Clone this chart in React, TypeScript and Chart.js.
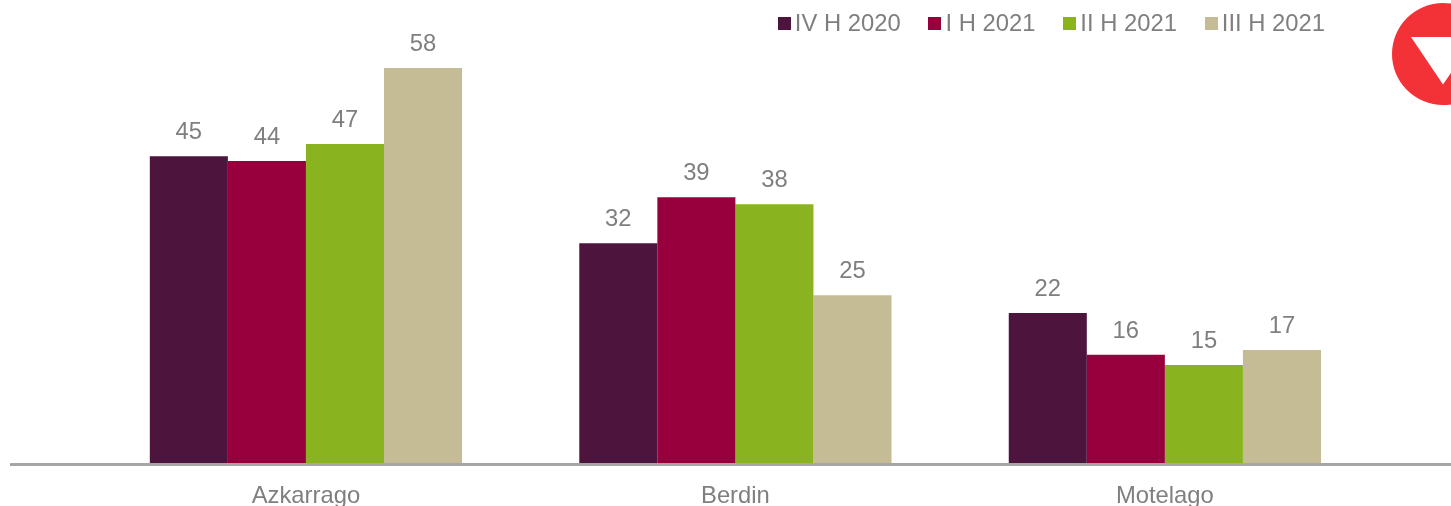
import React, { useEffect, useRef } from "react";
import { Chart, registerables } from "chart.js";

Chart.register(...registerables);

const categories = ["Azkarrago", "Berdin", "Motelago"];
const seriesNames = ["IV H 2020", "I H 2021", "II H 2021", "III H 2021"];
const seriesColors = ["#4d143d", "#97003c", "#8ab41f", "#c5bc95"];
const iv2020 = [45.1, 32.4, 22.2];
const i2021 = [44.4, 39.1, 16.1];
const ii2021 = [46.9, 38.1, 14.6];
const iii2021 = [58, 24.8, 16.8];
const seriesValues = [iv2020, i2021, ii2021, iii2021];

const FONT = "'Liberation Sans', Arial, sans-serif";
const FONT_SIZE = 23.8;
const GRAY = "#7f7f7f";

const decorations = {
  id: "decorations",
  afterLayout(chart: any) {
    const legend = chart.legend;
    const dx = 1354.2 - legend.right;
    const dy = -16.4 - legend.top;
    legend.left += dx;
    legend.right += dx;
    legend.top += dy;
    legend.bottom += dy;
    // small tolerance so the last item stays on the first row
    legend.lineWidths[0] += 0.05;
    legend.legendHitBoxes.forEach((b: any) => {
      b.left += dx;
      b.top += dy;
    });
  },
  afterDraw(chart: any) {
    const { ctx, scales } = chart;
    ctx.save();
    // category baseline, wider than the plot
    const base = scales.y.getPixelForValue(0);
    ctx.strokeStyle = "#a6a6a6";
    ctx.lineWidth = 3;
    ctx.beginPath();
    ctx.moveTo(10, Math.round(base) - 0.5);
    ctx.lineTo(1451, Math.round(base) - 0.5);
    ctx.stroke();

    // value labels
    ctx.font = `${FONT_SIZE}px ${FONT}`;
    ctx.fillStyle = GRAY;
    ctx.textAlign = "center";
    ctx.textBaseline = "middle";
    chart.data.datasets.forEach((ds: any, i: number) => {
      chart.getDatasetMeta(i).data.forEach((bar: any, j: number) => {
        ctx.fillText(String(Math.round(ds.data[j])), bar.x, bar.y - 23.7);
      });
    });

    // legend squares
    chart.legend.legendHitBoxes.forEach((b: any, i: number) => {
      ctx.fillStyle = seriesColors[i];
      ctx.fillRect(Math.round(b.left - 1.5), 17, 13, 13);
    });

    // logo badge
    ctx.fillStyle = "#f33237";
    ctx.beginPath();
    ctx.arc(1443, 54, 51, 0, Math.PI * 2);
    ctx.fill();
    ctx.fillStyle = "#ffffff";
    ctx.beginPath();
    ctx.moveTo(1411, 37);
    ctx.lineTo(1475, 37);
    ctx.lineTo(1443, 84.5);
    ctx.closePath();
    ctx.fill();
    ctx.restore();
  },
};

export default function App() {
  const ref = useRef<HTMLCanvasElement>(null);
  useEffect(() => {
    const chart = new Chart(ref.current!, {
      type: "bar",
      data: {
        labels: categories,
        datasets: seriesNames.map((label, i) => ({
          label,
          data: seriesValues[i],
          backgroundColor: seriesColors[i],
          borderWidth: 0,
          barPercentage: 1,
          categoryPercentage: 0.727,
        })),
      },
      options: {
        responsive: false,
        animation: false,
        layout: { padding: { left: 91.2, right: 71.4, top: -8.7, bottom: 0 } },
        scales: {
          x: {
            grid: { display: false },
            border: { display: false },
            afterFit: (s: any) => {
              s.height = 41;
            },
            ticks: {
              color: GRAY,
              padding: 9,
              font: { family: FONT, size: FONT_SIZE },
              maxRotation: 0,
            },
          },
          y: { display: false, min: 0, max: 60 },
        },
        plugins: {
          tooltip: { enabled: false },
          legend: {
            position: "top",
            align: "end",
            labels: {
              color: GRAY,
              boxWidth: 3.75,
              boxHeight: 5,
              padding: 29.2,
              font: { family: FONT, size: FONT_SIZE },
            },
          },
        },
      } as any,
      plugins: [decorations],
    });
    return () => chart.destroy();
  }, []);
  return (
    <canvas
      ref={ref}
      width={1451}
      height={506}
      style={{ position: "fixed", left: 0, top: 0, display: "block" }}
    />
  );
}
